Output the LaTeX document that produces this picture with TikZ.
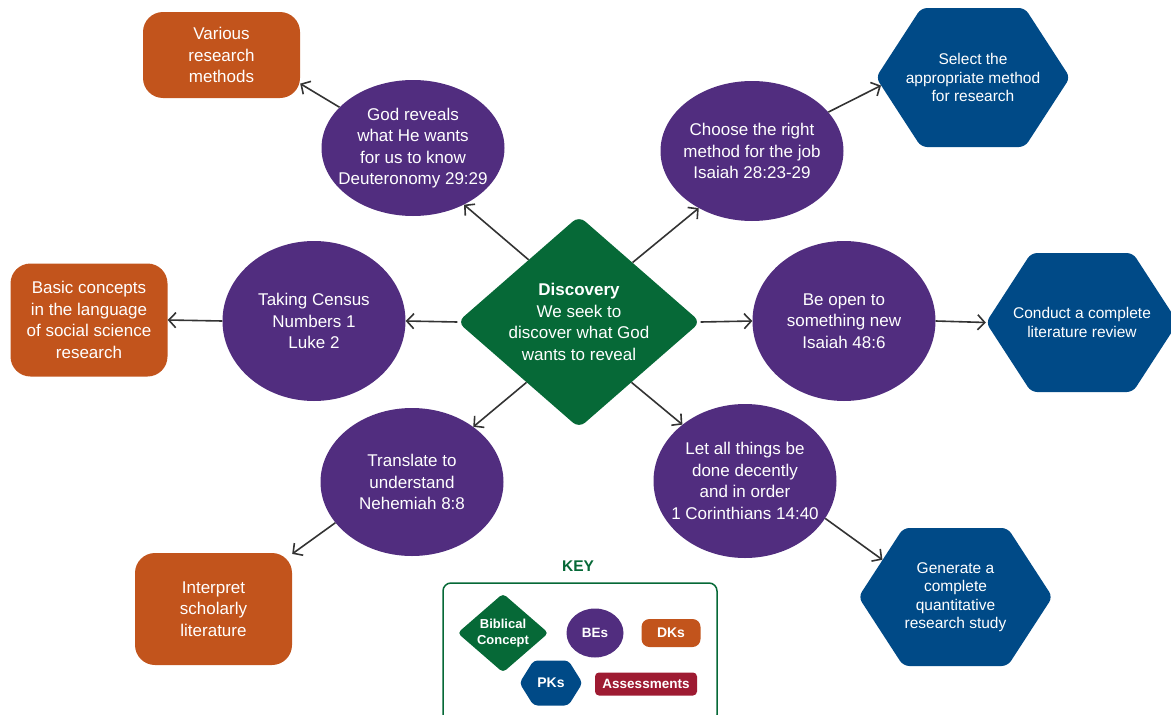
\documentclass[tikz,border=0pt]{standalone}
\usepackage{fontspec}
\setmainfont{Liberation Sans}
\usepackage{tikz}
\usetikzlibrary{shapes.geometric, shapes.symbols, arrows.meta}
\definecolor{bepurple}{RGB}{81,45,127}
\definecolor{bcgreen}{RGB}{6,105,55}
\definecolor{dkorange}{RGB}{194,84,28}
\definecolor{pkblue}{RGB}{0,74,135}
\definecolor{asred}{RGB}{158,27,50}
\definecolor{arrowgray}{RGB}{51,51,51}
\tikzstyle{arrow} = [line width=1.6pt, draw=arrowgray, ->, >={Straight Barb[length=7pt,width=15pt]}]
\tikzstyle{concept} = [diamond, aspect=1.15, rounded corners=8pt, fill=bcgreen, text=white, align=center, inner sep=0pt, font=\fontsize{17}{21.5}\selectfont]
\tikzstyle{bes} = [ellipse, fill=bepurple, text=white, align=center, inner sep=-30pt, minimum width=183pt, font=\fontsize{17}{21.5}\selectfont]
\tikzstyle{dks} = [rectangle, rounded corners=20pt, fill=dkorange, text=white, align=center, minimum width=157pt, font=\fontsize{17}{21.5}\selectfont]
\tikzstyle{pks} = [signal, signal to=west and east, signal pointer angle=114, rounded corners=6pt, fill=pkblue, text=white, align=center, inner xsep=-40pt, minimum width=194pt, minimum height=139pt, font=\fontsize{15.5}{18.5}\selectfont]

\begin{document}
\begin{tikzpicture}[x=1pt, y=-1pt]
                \useasboundingbox (0,0) rectangle (1171,715);

                \node (disc) at (579,322) [concept, minimum width=243pt, minimum height=212pt] {\textbf{Discovery}\\We seek to\\discover what God\\wants to reveal};

                \node (reveals) at (413,148) [bes, minimum height=136pt] {God reveals\\what He wants\\for us to know\\Deuteronomy 29:29};
                \node (choose) at (752,151) [bes, minimum height=140pt] {Choose the right\\method for the job\\Isaiah 28:23-29};
                \node (census) at (314,321) [bes, minimum height=160pt] {Taking Census\\Numbers 1\\Luke 2};
                \node (openness) at (844,321) [bes, minimum height=160pt] {Be open to\\something new\\Isaiah 48:6};
                \node (translate) at (412,482) [bes, minimum height=148pt] {Translate to\\understand\\Nehemiah 8:8};
                \node (order) at (745,481) [bes, minimum height=154pt] {Let all things be\\done decently\\and in order\\1 Corinthians 14:40};

                \node (various) at (221.5,55) [dks, minimum height=86pt] {Various\\research\\methods};
                \node (basic) at (89,320) [dks, minimum height=113pt] {Basic concepts\\in the language\\of social science\\research};
                \node (interpret) at (213.5,609) [dks, minimum height=112pt] {Interpret\\scholarly\\literature};

                \node (select) at (973,77.5) [pks] {Select the\\appropriate method\\for research};
                \node (conduct) at (1082,322.5) [pks, minimum width=192pt] {Conduct a complete\\literature review};
                \node (generate) at (955.5,597) [pks, minimum height=138pt] {Generate a\\complete\\quantitative\\research study};

                \node (keytitle) at (578,566) [text=bcgreen, font=\bfseries\fontsize{15.5}{18}\selectfont] {KEY};
                \node (keybox) at (580,653) [draw=bcgreen, line width=1.5pt, rounded corners=8pt, minimum width=274pt, minimum height=140pt] {};
                \node (keyconcept) at (503,633) [concept, minimum width=91pt, minimum height=79pt, rounded corners=4pt, font=\bfseries\fontsize{13}{16.5}\selectfont] {Biblical\\Concept};
                \node (keybes) at (595,633) [bes, minimum width=57pt, minimum height=49pt, font=\bfseries\fontsize{13.5}{15}\selectfont] {BEs};
                \node (keydks) at (671,633) [dks, rounded corners=8pt, minimum width=59pt, minimum height=28pt, font=\bfseries\fontsize{14}{16}\selectfont] {DKs};
                \node (keypks) at (551,683) [pks, signal pointer angle=116, rounded corners=4pt, inner xsep=0pt, minimum width=63pt, minimum height=45pt, font=\bfseries\fontsize{14}{16}\selectfont] {PKs};
                \node (keyassess) at (646,684) [rectangle, rounded corners=4pt, fill=asred, text=white, minimum width=102pt, minimum height=23pt, font=\bfseries\fontsize{13.5}{15}\selectfont] {Assessments};

                \draw [arrow] (disc.129) -- (reveals.-48);
                \draw [arrow] (disc.48) -- (choose.-133);
                \draw [arrow] (disc.west) -- (census.east);
                \draw [arrow] (disc.east) -- (openness.west);
                \draw [arrow] (disc.229) -- (translate.42);
                \draw [arrow] (disc.-49) -- (order.138);
                \draw [arrow] (reveals.151) -- (various.-20);
                \draw [arrow] (choose.27) -- (select.185);
                \draw [arrow] (census.west) -- (basic.east);
                \draw [arrow] (openness.east) -- (conduct.west);
                \draw [arrow] (translate.208) -- (interpret.35);
                \draw [arrow] (order.-25) -- (generate.153);
            \end{tikzpicture}
\end{document}
